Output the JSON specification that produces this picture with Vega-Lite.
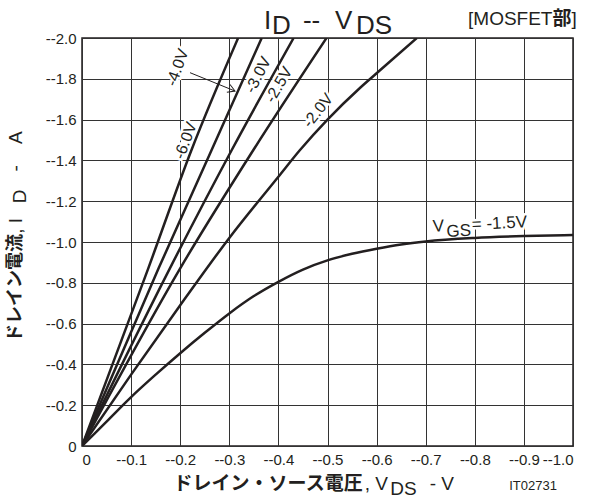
{
  "$schema": "https://vega.github.io/schema/vega-lite/v6.json",
  "width": 491,
  "height": 408,
  "autosize": "none",
  "padding": {"left": 82, "top": 38, "right": 19, "bottom": 55},
  "background": "white",
  "config": {
    "font": "Liberation Sans",
    "view": {"stroke": "#231f20", "strokeWidth": 1.5},
    "axis": {
      "domain": false,
      "ticks": false,
      "tickSize": 0,
      "grid": true,
      "gridColor": "#333333",
      "gridWidth": 1,
      "gridOpacity": 1,
      "labelFont": "Liberation Sans",
      "labelFontSize": 15,
      "labelColor": "#231f20",
      "labelPadding": 6,
      "title": null
    }
  },
  "datasets": {
    "curves": [
      {"vgs": "-6.0V", "x": 0, "y": 0}, {"vgs": "-6.0V", "x": -0.135, "y": -0.871}, {"vgs": "-6.0V", "x": -0.223, "y": -1.451}, {"vgs": "-6.0V", "x": -0.318, "y": -2.0},
      {"vgs": "-4.0V", "x": 0, "y": 0}, {"vgs": "-4.0V", "x": -0.156, "y": -0.871}, {"vgs": "-4.0V", "x": -0.264, "y": -1.451}, {"vgs": "-4.0V", "x": -0.366, "y": -2.0},
      {"vgs": "-3.0V", "x": 0, "y": 0}, {"vgs": "-3.0V", "x": -0.179, "y": -0.871}, {"vgs": "-3.0V", "x": -0.305, "y": -1.451}, {"vgs": "-3.0V", "x": -0.431, "y": -2.0},
      {"vgs": "-2.5V", "x": 0, "y": 0}, {"vgs": "-2.5V", "x": -0.2, "y": -0.871}, {"vgs": "-2.5V", "x": -0.349, "y": -1.451}, {"vgs": "-2.5V", "x": -0.498, "y": -2.0},
      {"vgs": "-2.0V", "x": 0, "y": 0}, {"vgs": "-2.0V", "x": -0.1, "y": -0.35}, {"vgs": "-2.0V", "x": -0.2, "y": -0.69}, {"vgs": "-2.0V", "x": -0.3, "y": -1.02}, {"vgs": "-2.0V", "x": -0.4, "y": -1.32}, {"vgs": "-2.0V", "x": -0.444, "y": -1.451}, {"vgs": "-2.0V", "x": -0.5, "y": -1.6}, {"vgs": "-2.0V", "x": -0.566, "y": -1.755}, {"vgs": "-2.0V", "x": -0.6, "y": -1.827}, {"vgs": "-2.0V", "x": -0.682, "y": -2.0},
      {"vgs": "-1.5V", "x": 0, "y": 0}, {"vgs": "-1.5V", "x": -0.05, "y": -0.12}, {"vgs": "-1.5V", "x": -0.1, "y": -0.24}, {"vgs": "-1.5V", "x": -0.15, "y": -0.35}, {"vgs": "-1.5V", "x": -0.2, "y": -0.455}, {"vgs": "-1.5V", "x": -0.25, "y": -0.555}, {"vgs": "-1.5V", "x": -0.3, "y": -0.65}, {"vgs": "-1.5V", "x": -0.35, "y": -0.735}, {"vgs": "-1.5V", "x": -0.4, "y": -0.805}, {"vgs": "-1.5V", "x": -0.45, "y": -0.865}, {"vgs": "-1.5V", "x": -0.5, "y": -0.91}, {"vgs": "-1.5V", "x": -0.55, "y": -0.942}, {"vgs": "-1.5V", "x": -0.6, "y": -0.967}, {"vgs": "-1.5V", "x": -0.65, "y": -0.988}, {"vgs": "-1.5V", "x": -0.7, "y": -1.003}, {"vgs": "-1.5V", "x": -0.8, "y": -1.02}, {"vgs": "-1.5V", "x": -0.9, "y": -1.029}, {"vgs": "-1.5V", "x": -1.0, "y": -1.034}
    ],
    "l40": [{"x": -0.1945, "y": -1.855, "t": "-4.0V"}],
    "l30": [{"x": -0.359, "y": -1.819, "t": "-3.0V"}],
    "l25": [{"x": -0.401, "y": -1.77, "t": "-2.5V"}],
    "l20": [{"x": -0.481, "y": -1.644, "t": "-2.0V"}],
    "l60": [{"x": -0.211, "y": -1.497, "t": "-6.0V"}],
    "lgs": [{"x": -0.715, "y": -1.05, "t": "V"}, {"x": -0.743, "y": -1.0245, "t": "GS"}, {"x": -0.7943, "y": -1.059, "t": "= -1.5V"}]
  },
  "encoding": {
    "x": {
      "field": "x", "type": "quantitative",
      "scale": {"domain": [0, -1.0], "nice": false, "zero": false},
      "axis": {"values": [0, -0.1, -0.2, -0.3, -0.4, -0.5, -0.6, -0.7, -0.8, -0.9, -1.0], "labelExpr": "datum.value == 0 ? '0' : '--' + format(-datum.value, '.1f')"}
    },
    "y": {
      "field": "y", "type": "quantitative",
      "scale": {"domain": [0, -2.0], "nice": false, "zero": false},
      "axis": {"values": [0, -0.2, -0.4, -0.6, -0.8, -1.0, -1.2, -1.4, -1.6, -1.8, -2.0], "labelExpr": "datum.value == 0 ? '0' : '--' + format(-datum.value, '.1f')"}
    }
  },
  "layer": [
    {"data": {"name": "l40"}, "mark": {"type": "text", "fontSize": 16, "angle": -70, "align": "center", "baseline": "middle", "fill": "white", "stroke": "white", "strokeWidth": 5}, "encoding": {"text": {"field": "t"}}},
    {"data": {"name": "l30"}, "mark": {"type": "text", "fontSize": 16, "angle": -63, "align": "center", "baseline": "middle", "fill": "white", "stroke": "white", "strokeWidth": 5}, "encoding": {"text": {"field": "t"}}},
    {"data": {"name": "l25"}, "mark": {"type": "text", "fontSize": 16, "angle": -60, "align": "center", "baseline": "middle", "fill": "white", "stroke": "white", "strokeWidth": 5}, "encoding": {"text": {"field": "t"}}},
    {"data": {"name": "l20"}, "mark": {"type": "text", "fontSize": 16, "angle": -52, "align": "center", "baseline": "middle", "fill": "white", "stroke": "white", "strokeWidth": 5}, "encoding": {"text": {"field": "t"}}},
    {"data": {"name": "l60"}, "mark": {"type": "text", "fontSize": 16, "angle": -70, "align": "center", "baseline": "middle", "fill": "white", "stroke": "white", "strokeWidth": 5}, "encoding": {"text": {"field": "t"}}},
    {"data": {"name": "lgs"}, "mark": {"type": "text", "fontSize": 17, "angle": -3, "align": "left", "baseline": "alphabetic", "fill": "white", "stroke": "white", "strokeWidth": 5}, "encoding": {"text": {"field": "t"}}},
    {
      "data": {"name": "curves"},
      "mark": {"type": "line", "stroke": "#231f20", "strokeWidth": 2.5, "interpolate": "monotone", "clip": true},
      "encoding": {"detail": {"field": "vgs", "type": "nominal"}}
    },
    {
      "data": {"values": [{"x": -0.22, "y": -1.83, "x2": -0.3116, "y2": -1.74}]},
      "mark": {"type": "rule", "stroke": "#231f20", "strokeWidth": 1},
      "encoding": {"x2": {"field": "x2"}, "y2": {"field": "y2"}}
    },
    {
      "data": {"values": [{"x": -0.3116, "y": -1.74}]},
      "mark": {"type": "point", "shape": "M-1,-0.6L0,0L-1,0.6", "filled": false, "stroke": "#231f20", "strokeWidth": 1, "size": 200, "angle": 22, "opacity": 1}
    },
    {"data": {"name": "l40"}, "mark": {"type": "text", "fontSize": 16, "angle": -70, "align": "center", "baseline": "middle", "fill": "#231f20"}, "encoding": {"text": {"field": "t"}}},
    {"data": {"name": "l30"}, "mark": {"type": "text", "fontSize": 16, "angle": -63, "align": "center", "baseline": "middle", "fill": "#231f20"}, "encoding": {"text": {"field": "t"}}},
    {"data": {"name": "l25"}, "mark": {"type": "text", "fontSize": 16, "angle": -60, "align": "center", "baseline": "middle", "fill": "#231f20"}, "encoding": {"text": {"field": "t"}}},
    {"data": {"name": "l20"}, "mark": {"type": "text", "fontSize": 16, "angle": -52, "align": "center", "baseline": "middle", "fill": "#231f20"}, "encoding": {"text": {"field": "t"}}},
    {"data": {"name": "l60"}, "mark": {"type": "text", "fontSize": 16, "angle": -70, "align": "center", "baseline": "middle", "fill": "#231f20"}, "encoding": {"text": {"field": "t"}}},
    {"data": {"name": "lgs"}, "mark": {"type": "text", "fontSize": 17, "angle": -3, "align": "left", "baseline": "alphabetic", "fill": "#231f20"}, "encoding": {"text": {"field": "t"}}},
    {
      "data": {"values": [{"x": -0.3707, "y": -2.0426, "t": "I"}, {"x": -0.387, "y": -2.0196, "t": "D"}, {"x": -0.45, "y": -2.0426, "t": "--"}, {"x": -0.5153, "y": -2.0426, "t": "V"}, {"x": -0.558, "y": -2.0196, "t": "DS"}]},
      "mark": {"type": "text", "fontSize": 26, "align": "left", "baseline": "alphabetic", "fill": "#231f20"},
      "encoding": {"text": {"field": "t"}}
    },
    {
      "data": {"values": [{"x": -0.7862, "y": -2.064, "t": "[MOSFET"}, {"x": -0.9969, "y": -2.064, "t": "]"}]},
      "mark": {"type": "text", "fontSize": 19, "align": "left", "baseline": "alphabetic", "fill": "#231f20"},
      "encoding": {"text": {"field": "t"}}
    },
    {
      "data": {"values": [{"x": -0.9582, "y": -2.064, "t": "部"}]},
      "mark": {"type": "text", "font": "Noto Sans CJK JP", "fontWeight": "bold", "fontSize": 19, "align": "left", "baseline": "alphabetic", "fill": "#231f20"},
      "encoding": {"text": {"field": "t"}}
    },
    {
      "data": {"values": [{"x": -0.1866, "y": 0.2157, "t": "ドレイン・ソース電圧"}]},
      "mark": {"type": "text", "font": "Noto Sans CJK JP", "fontWeight": "bold", "fontSize": 19, "align": "left", "baseline": "alphabetic", "fill": "#231f20"},
      "encoding": {"text": {"field": "t"}}
    },
    {
      "data": {"values": [{"x": -0.576, "y": 0.2157, "t": ", V"}, {"x": -0.628, "y": 0.24, "t": "DS"}, {"x": -0.708, "y": 0.2157, "t": "-  V"}]},
      "mark": {"type": "text", "fontSize": 19, "align": "left", "baseline": "alphabetic", "fill": "#231f20"},
      "encoding": {"text": {"field": "t"}}
    },
    {
      "data": {"values": [{"x": -0.87, "y": 0.2157, "t": "IT02731"}]},
      "mark": {"type": "text", "fontSize": 13, "align": "left", "baseline": "alphabetic", "fill": "#231f20"},
      "encoding": {"text": {"field": "t"}}
    },
    {
      "data": {"values": [{"x": 0.1344, "y": -0.5098, "t": "ドレイン電流"}]},
      "mark": {"type": "text", "font": "Noto Sans CJK JP", "fontWeight": "bold", "fontSize": 18, "angle": -90, "align": "left", "baseline": "middle", "fill": "#231f20"},
      "encoding": {"text": {"field": "t"}}
    },
    {
      "data": {"values": [{"x": 0.1344, "y": -1.04, "t": ", I"}, {"x": 0.1262, "y": -1.19, "t": "D"}, {"x": 0.1344, "y": -1.345, "t": "-"}, {"x": 0.1344, "y": -1.48, "t": "A"}]},
      "mark": {"type": "text", "fontSize": 19, "angle": -90, "align": "left", "baseline": "middle", "fill": "#231f20"},
      "encoding": {"text": {"field": "t"}}
    }
  ]
}
